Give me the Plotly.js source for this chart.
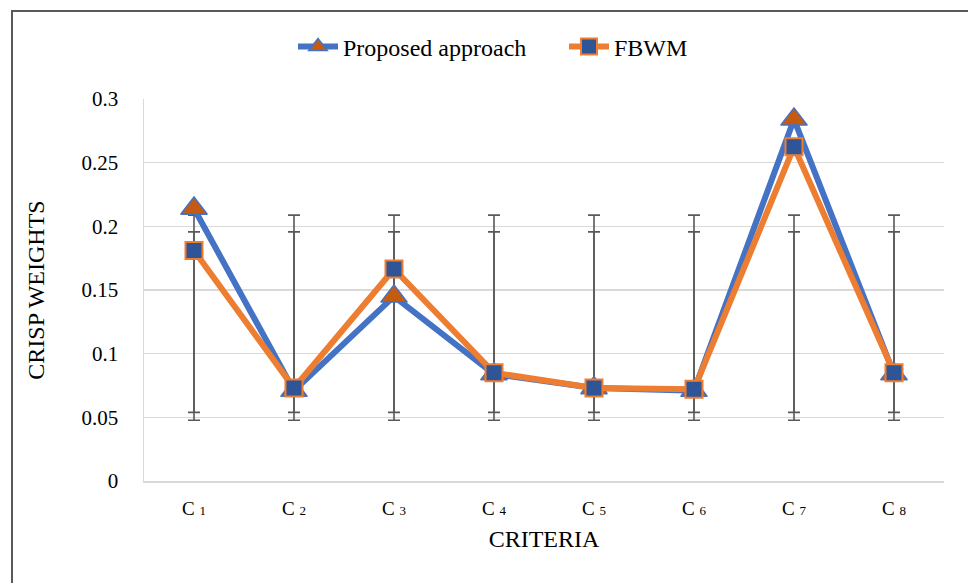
<!DOCTYPE html>
<html>
<head>
<meta charset="utf-8">
<script src="https://cdn.plot.ly/plotly-3.0.1.min.js"></script>
<style>html,body{margin:0;padding:0;background:#fff;}#chart{width:968px;height:583px;}</style>
</head>
<body>
<div id="chart"></div>
<script>
// ---- data ----
const categoryIds = ["1","2","3","4","5","6","7","8"];
const categories = categoryIds.map(d => "C <span style='font-size:13px'>" + d + "</span>");
const proposed = [0.214, 0.071, 0.145, 0.084, 0.073, 0.071, 0.284, 0.084];
const fbwm     = [0.181, 0.073, 0.1665, 0.085, 0.073, 0.072, 0.2625, 0.085];
const seriesNames = ["Proposed approach", "FBWM"];
const yTickVals = [0, 0.05, 0.1, 0.15, 0.2, 0.25, 0.3];
const yTickText = ["0", "0.05", "0.1", "0.15", "0.2", "0.25", "0.3"];

// Excel "standard deviation" error bars: centred on the series mean, +/- sample SD
function mean(a){ return a.reduce((s,v)=>s+v,0)/a.length; }
function sd(a){ const m=mean(a); return Math.sqrt(a.reduce((s,v)=>s+(v-m)*(v-m),0)/(a.length-1)); }

const FONT = "Liberation Serif, Times New Roman, serif";
const xIdx = categories.map((c,i)=>i);

function errTrace(vals){
  return {
    x: xIdx, y: vals.map(()=>mean(vals)),
    type: "scatter", mode: "markers",
    marker: {size: 1, opacity: 0},
    error_y: {type: "constant", value: sd(vals), color: "#595959", thickness: 1.6, width: 6},
    showlegend: false, hoverinfo: "skip"
  };
}

const traces = [
  errTrace(proposed),
  errTrace(fbwm),
  {
    x: xIdx, y: proposed, name: seriesNames[0],
    type: "scatter", mode: "lines+markers",
    line: {color: "#4472C4", width: 6},
    marker: {symbol: "triangle-up", size: 23, color: "#C55A11", line: {color: "#4472C4", width: 1.5}}
  },
  {
    x: xIdx, y: fbwm, name: seriesNames[1],
    type: "scatter", mode: "lines+markers",
    line: {color: "#ED7D31", width: 6},
    marker: {symbol: "square", size: 17, color: "#2F5597", line: {color: "#ED7D31", width: 2}}
  }
];

// helpers to convert pixel positions to paper coordinates
const L=144, R=944, T=99, B=481;
const px = x => (x-L)/(R-L);
const py = y => (B-y)/(B-T);

const layout = {
  width: 968, height: 583,
  margin: {l: L, r: 968-R, t: T, b: 583-B},
  paper_bgcolor: "#fff", plot_bgcolor: "#fff",
  font: {family: FONT, size: 21, color: "#000"},
  showlegend: true,
  legend: {
    orientation: "h", x: px(293), xanchor: "left", y: py(47), yanchor: "middle",
    font: {family: FONT, size: 24, color: "#000"},
    itemwidth: 40, tracegroupgap: 0, bgcolor: "rgba(0,0,0,0)",
    entrywidth: 216, entrywidthmode: "pixels"
  },
  xaxis: {
    range: [-0.5, 7.5], tickvals: xIdx, ticktext: categories,
    showgrid: false, zeroline: false, showline: true, linecolor: "#d9d9d9", linewidth: 1.5,
    ticks: "", ticklabelstandoff: 10,
    tickfont: {family: FONT, size: 19, color: "#000"},
    title: {text: "CRITERIA", font: {family: FONT, size: 24, color: "#000"}, standoff: 12},
    fixedrange: true
  },
  yaxis: {
    range: [0, 0.3], tickvals: yTickVals, ticktext: yTickText,
    showgrid: true, gridcolor: "#d9d9d9", gridwidth: 1.5,
    zeroline: false, showline: true, linecolor: "#d9d9d9", linewidth: 1.5,
    ticks: "", ticklabelstandoff: 20,
    tickfont: {family: FONT, size: 21, color: "#000"},
    title: {text: "CRISP WEIGHTS", font: {family: FONT, size: 24, color: "#000"}, standoff: 30},
    fixedrange: true
  },
  shapes: [
    {type: "line", xref: "paper", yref: "paper", x0: px(12), x1: px(975), y0: py(11), y1: py(11), line: {color: "#595959", width: 2}},
    {type: "line", xref: "paper", yref: "paper", x0: px(12), x1: px(12), y0: py(10), y1: py(590), line: {color: "#595959", width: 2}}
  ]
};

Plotly.newPlot("chart", traces, layout, {displayModeBar: false, staticPlot: true});
</script>
</body>
</html>
